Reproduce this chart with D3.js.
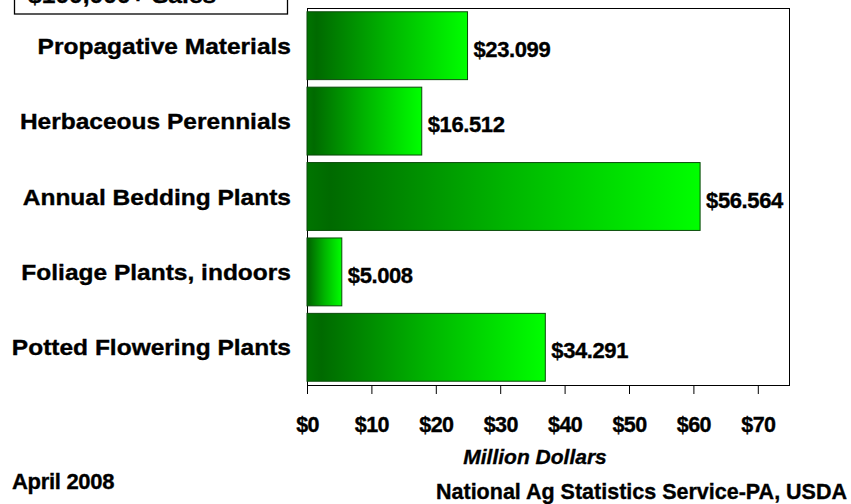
<!DOCTYPE html>
<html><head><meta charset="utf-8">
<script src="https://cdn.jsdelivr.net/npm/d3@7"></script>
<style>
html,body{margin:0;padding:0;background:#fff;}
svg{display:block;font-family:"Liberation Sans",Arial,sans-serif;}
svg text{stroke:#000;stroke-width:0.35px;fill:#000;}
</style></head>
<body><svg id="c" width="851" height="504"></svg>
<script>
const categories = ["Propagative Materials","Herbaceous Perennials","Annual Bedding Plants","Foliage Plants, indoors","Potted Flowering Plants"];
const values = [23.099, 16.512, 56.564, 5.008, 34.291];
const valueLabels = ["$23.099","$16.512","$56.564","$5.008","$34.291"];
const tickValues = [0,10,20,30,40,50,60,70];
const tickLabels = ["$0","$10","$20","$30","$40","$50","$60","$70"];
const boxTitle = "$100,000+ Sales";
const axisTitle = "Million Dollars";
const dateNote = "April 2008";
const sourceNote = "National Ag Statistics Service-PA, USDA";

const svg = d3.select("#c");
const L = 307, R = 790, T = 8, B = 385;
// the bars in the picture are drawn on a slightly different scale than the printed axis
const xBar = d3.scaleLinear().domain([0,69.5]).range([L,R]);
const xAxis = d3.scaleLinear().domain([0,75]).range([L,R]);
const y = d3.scaleBand().domain(categories).range([T,B]).paddingInner(0.1).paddingOuter(0.05);

const defs = svg.append("defs");
const g = defs.append("linearGradient").attr("id","grad").attr("x1","0%").attr("x2","100%").attr("y1","0%").attr("y2","0%");
g.append("stop").attr("offset","0%").attr("stop-color","#007400");
g.append("stop").attr("offset","6%").attr("stop-color","#006a00");
g.append("stop").attr("offset","50%").attr("stop-color","#00b400");
g.append("stop").attr("offset","100%").attr("stop-color","#00ff00");

// title box (cut off at top)
svg.append("rect").attr("x",14.5).attr("y",-30).attr("width",273).attr("height",44).attr("fill","#fff").attr("stroke","#000").attr("stroke-width",1.3);
svg.append("text").attr("transform","translate(28,3) scale(1.12,1)").attr("font-size",22).attr("font-weight","bold").text(boxTitle);

// plot frame
svg.append("rect").attr("x",L+0.5).attr("y",T+0.5).attr("width",R-L-1).attr("height",B-T).attr("fill","#fff").attr("stroke","#000").attr("stroke-width",1);

// bars
svg.selectAll("rect.bar").data(categories).enter().append("rect").attr("class","bar")
  .attr("x",xBar(0)).attr("y",d=>y(d))
  .attr("width",(d,i)=>xBar(values[i])-xBar(0)).attr("height",y.bandwidth())
  .attr("fill","url(#grad)").attr("stroke","#0a4a0a").attr("stroke-width",1);

// value labels
svg.selectAll("text.val").data(categories).enter().append("text").attr("class","val")
  .attr("x",(d,i)=>xBar(values[i])+6).attr("y",d=>y(d)+y.bandwidth()/2+11)
  .attr("font-size",22).attr("font-weight","bold").attr("letter-spacing",-0.4)
  .text((d,i)=>valueLabels[i]);

// category labels
svg.selectAll("text.cat").data(categories).enter().append("text").attr("class","cat")
  .attr("transform",d=>`translate(291,${y(d)+y.bandwidth()/2+8}) scale(1.115,1)`)
  .attr("text-anchor","end").attr("font-size",22).attr("font-weight","bold").text(d=>d);

// x axis
const ax = d3.axisBottom(xAxis).tickValues(tickValues).tickFormat((d,i)=>tickLabels[i]).tickSize(9).tickPadding(23);
const axg = svg.append("g").attr("transform",`translate(0,${B})`).call(ax);
axg.select(".domain").attr("stroke","#000").attr("d",`M${L},0.5H${R}`);
axg.selectAll(".tick line").attr("stroke","#000");
axg.selectAll(".tick text").attr("font-size",21.5).attr("font-weight","bold").attr("font-family","'Liberation Sans',Arial,sans-serif").attr("letter-spacing",-0.6);

svg.append("text").attr("x",535).attr("y",464).attr("text-anchor","middle").attr("font-size",21).attr("font-weight","bold").attr("font-style","italic").text(axisTitle);
svg.append("text").attr("x",12).attr("y",489).attr("font-size",22).attr("font-weight","bold").attr("letter-spacing",-0.3).text(dateNote);
svg.append("text").attr("x",847).attr("y",499).attr("text-anchor","end").attr("font-size",21.5).attr("font-weight","bold").text(sourceNote);
</script></body></html>
